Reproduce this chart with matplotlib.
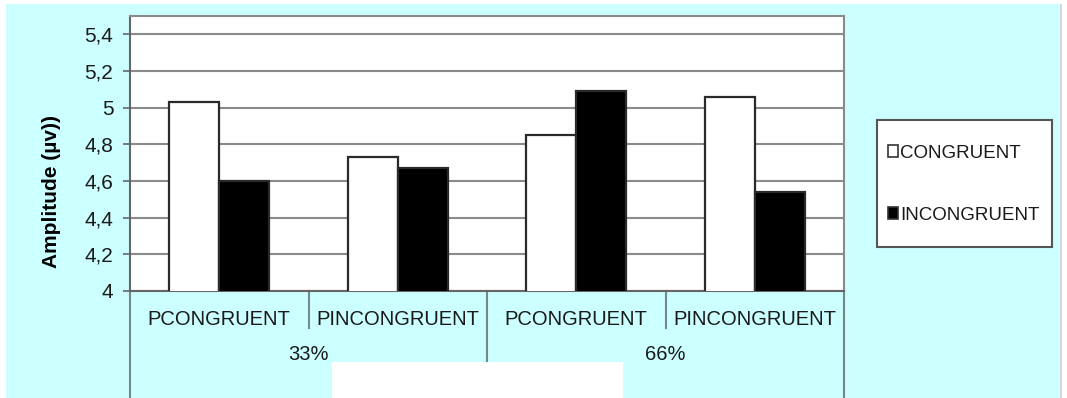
import matplotlib.pyplot as plt
import numpy as np
from matplotlib.patches import Patch, Rectangle

plt.rcParams['font.family'] = ['Liberation Sans', 'DejaVu Sans']

# amplitude per condition
conditions = ['PCONGRUENT', 'PINCONGRUENT', 'PCONGRUENT', 'PINCONGRUENT']
groups = ['33%', '66%']
congruent = [5.03, 4.73, 4.85, 5.06]
incongruent = [4.60, 4.67, 5.09, 4.54]
series_names = ['CONGRUENT', 'INCONGRUENT']

W, H = 1067, 398
fig = plt.figure(figsize=(W / 100, H / 100), dpi=100)
fig.patch.set_facecolor('white')

# cyan chart area and grey right edge
fig.patches.append(Rectangle((6 / W, 0), (1060 - 6) / W, (H - 4) / H,
                             transform=fig.transFigure, facecolor='#CCFFFF',
                             edgecolor='none', zorder=-10))
fig.patches.append(Rectangle((1060 / W, 0), 2 / W, (H - 4) / H,
                             transform=fig.transFigure, facecolor='#d8d8d8',
                             edgecolor='none', zorder=-10))

ax = fig.add_axes([130 / W, (H - 291) / H, (844 - 130) / W, (291 - 16) / H])
ax.set_facecolor('white')

x = np.arange(len(conditions))
bw = 0.28
ax.bar(x - bw / 2, congruent, bw, bottom=0, color='white', edgecolor='#2a2a2a',
       linewidth=1.6, zorder=3)
ax.bar(x + bw / 2, incongruent, bw, bottom=0, color='black', edgecolor='#2a2a2a',
       linewidth=1.6, zorder=3)

ax.set_ylim(4, 5.5)
ax.set_xlim(-0.5, len(conditions) - 0.5)
ax.set_yticks([4, 4.2, 4.4, 4.6, 4.8, 5, 5.2, 5.4])
ax.set_yticklabels(['4', '4,2', '4,4', '4,6', '4,8', '5', '5,2', '5,4'], fontsize=15,
                   color='#1a1a1a')
ax.yaxis.grid(True, color='#8a8a8a', linewidth=1.5, zorder=0)
ax.tick_params(axis='y', length=5, width=1.2, color='#666666', pad=7)

ax.set_xticks(x)
ax.set_xticklabels(conditions, fontsize=14.5, color='#1a1a1a')
ax.tick_params(axis='x', length=0, pad=14)

for side in ['top', 'right']:
    ax.spines[side].set_color('#8a8a8a')
    ax.spines[side].set_linewidth(1.5)
for side in ['left', 'bottom']:
    ax.spines[side].set_color('#666666')
    ax.spines[side].set_linewidth(1.5)

ax.set_ylabel('Amplitude (µv))', fontsize=15, fontweight='bold')
ax.yaxis.set_label_coords(-0.097, 0.36)

# two-level category axis below the plot
tr = ax.get_xaxis_transform()
minor_bottom = (291 - 328) / 275
major_bottom = (291 - 400) / 275
for xs in [0.5, 2.5]:
    ax.plot([xs, xs], [0, minor_bottom], transform=tr, color='#778888',
            linewidth=1.5, clip_on=False)
for xs in [-0.5, 1.5, 3.5]:
    ax.plot([xs, xs], [0, major_bottom], transform=tr, color='#778888',
            linewidth=1.5, clip_on=False)
for i, g in enumerate(groups):
    ax.text(0.5 + 2 * i, (291 - 354) / 275, g, transform=tr, ha='center',
            va='center', fontsize=14.5, color='#1a1a1a')

# white block over the lower strip
fig.patches.append(Rectangle((332 / W, 0), (623 - 332) / W, (H - 362) / H,
                             transform=fig.transFigure, facecolor='white',
                             edgecolor='none', zorder=20))

# legend box
fig.patches.append(Rectangle((877 / W, (H - 247) / H), (1052 - 877) / W, (247 - 120) / H,
                             transform=fig.transFigure, facecolor='white',
                             edgecolor='#555555', linewidth=1.5, zorder=5))
handles = [Patch(facecolor='white', edgecolor='#333333', linewidth=1.2),
           Patch(facecolor='black', edgecolor='#333333', linewidth=1.2)]
leg = fig.legend(handles, series_names, loc='center left',
                 bbox_to_anchor=(871 / W, (H - 184) / H), frameon=False,
                 fontsize=13.5, handlelength=0.55, handleheight=0.55,
                 handletextpad=0.1, labelspacing=2.4)
leg.set_zorder(6)
for t in leg.get_texts():
    t.set_color('#1a1a1a')

fig.savefig('out.png', dpi=100)
